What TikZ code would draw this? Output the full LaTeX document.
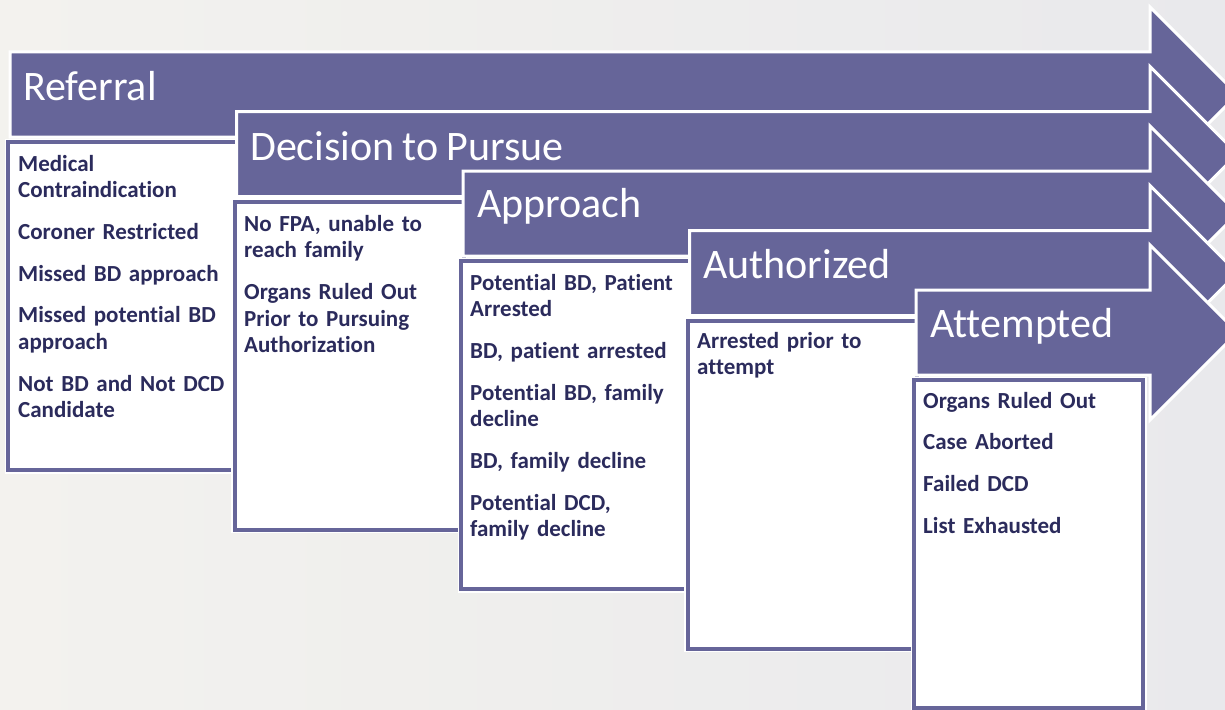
\documentclass[tikz,border=0pt]{standalone}
\usepackage{fontspec}
\setmainfont{Carlito}[Ligatures=NoCommon,WordSpace=0.85]
\definecolor{stagefill}{RGB}{102,101,153}
\definecolor{reasontext}{RGB}{43,43,92}
\definecolor{bgleft}{RGB}{243,242,238}
\definecolor{bgright}{RGB}{233,233,236}
\tikzset{
  stagearrow/.style={fill=stagefill,draw=white,line width=3pt,line join=miter},
  stagebox/.style={fill=white,draw=stagefill,line width=4pt,preaction={draw=white,line width=7pt}},
  stagetitle/.style={anchor=base west,inner sep=0pt,text=white,font=\fontsize{42}{42}\selectfont},
  reasons/.style={anchor=base west,inner sep=0pt,text width=215pt,align=left,text=reasontext,font=\fontsize{23}{26.7}\selectfont\bfseries}
}
\begin{document}
\begin{tikzpicture}[x=1pt,y=-1pt]
  \path [use as bounding box] (0,0) rectangle (1225,709);
  \clip (0,0) rectangle (1225,709);
  \shade [left color=bgleft,right color=bgright] (0,0) rectangle (1225,709);
  \foreach \i in {0,...,4} {
    \pgfmathsetmacro{\xl}{10+226.5*\i}
    \pgfmathsetmacro{\yt}{52+59.5*\i}
    \draw [stagearrow] (\xl,\yt) -- (1150,\yt) -- (1150,\yt-45) -- (1237.5,\yt+42.5)
      -- (1150,\yt+130) -- (1150,\yt+85) -- (\xl,\yt+85) -- cycle;
    \draw [stagebox] (\xl-2,\yt+90) rectangle ++(229,328);
  }
  \node [stagetitle] (referral) at (23,100) {Referral};
  \node [stagetitle] (decision) at (250,160) {Decision to Pursue};
  \node [stagetitle] (approach) at (477,217) {Approach};
  \node [stagetitle] (authorized) at (703,278) {Authorized};
  \node [stagetitle] (attempted) at (930,337) {Attempted};
  \node [reasons] (referral-list) at (18,171) {Medical\\Contraindication\\[15pt]Coroner Restricted\\[15pt]Missed BD approach\\[15pt]Missed potential BD\\approach\\[15pt]Not BD and Not DCD\\Candidate};
  \node [reasons] (decision-list) at (244,231) {No FPA, unable to\\reach family\\[15pt]Organs Ruled Out\\Prior to Pursuing\\Authorization};
  \node [reasons] (approach-list) at (470,290) {Potential BD, Patient\\Arrested\\[15pt]BD, patient arrested\\[15pt]Potential BD, family\\decline\\[15pt]BD, family decline\\[15pt]Potential DCD,\\family decline};
  \node [reasons] (authorized-list) at (697,348) {Arrested prior to\\attempt};
  \node [reasons] (attempted-list) at (923,408) {Organs Ruled Out\\[15pt]Case Aborted\\[15pt]Failed DCD\\[15pt]List Exhausted};
\end{tikzpicture}
\end{document}
